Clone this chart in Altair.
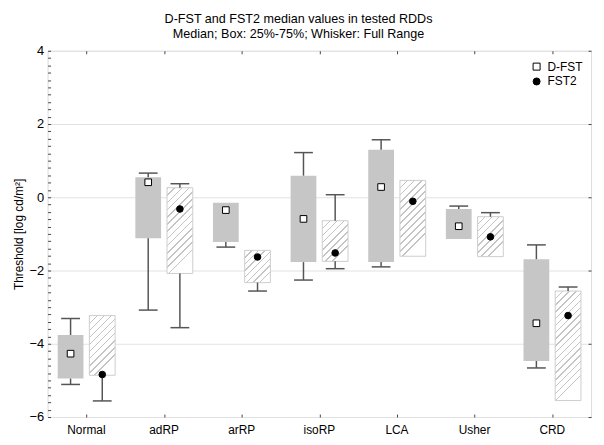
import math
import altair as alt
import pandas as pd

categories = ["Normal", "adRP", "arRP", "isoRP", "LCA", "Usher", "CRD"]
series_names = ["D-FST", "FST2"]

dfst_min = [-5.11, -3.08, -1.36, -2.26, -1.90, -1.14, -4.66]
dfst_q1 = [-4.95, -1.12, -1.22, -1.77, -1.77, -1.14, -4.47]
dfst_med = [-4.27, 0.41, -0.35, -0.59, 0.28, -0.79, -3.44]
dfst_q3 = [-3.76, 0.55, -0.15, 0.59, 1.30, -0.32, -1.69]
dfst_max = [-3.31, 0.66, -0.15, 1.22, 1.57, -0.24, -1.30]

fst2_min = [-5.56, -3.56, -2.56, -1.95, -1.61, -1.62, -5.55]
fst2_q1 = [-4.86, -2.08, -2.33, -1.75, -1.61, -1.62, -5.55]
fst2_med = [-4.84, -0.32, -1.63, -1.52, -0.11, -1.08, -3.23]
fst2_q3 = [-3.23, 0.26, -1.45, -0.64, 0.46, -0.53, -2.56]
fst2_max = [-3.23, 0.37, -1.45, 0.07, 0.46, -0.42, -2.45]

y_ticks = [-6, -4, -2, 0, 2, 4]
y_minor_ticks = [round(-6 + 0.2 * k, 1) for k in range(51)]

W, H = 549, 370
PX_PER_UNIT = H / 10.0
BOX_W = 26

rows = []
for i, c in enumerate(categories):
    rows.append(dict(cat=c, series="D-FST", mn=dfst_min[i], q1=dfst_q1[i],
                     med=dfst_med[i], q3=dfst_q3[i], mx=dfst_max[i]))
    rows.append(dict(cat=c, series="FST2", mn=fst2_min[i], q1=fst2_q1[i],
                     med=fst2_med[i], q3=fst2_q3[i], mx=fst2_max[i]))
df = pd.DataFrame(rows)

FONT = "Liberation Sans"
FRAME = "#444444"

x_scale = alt.Scale(domain=categories, paddingInner=0, paddingOuter=0)
x_enc = alt.X("cat:N", sort=categories, scale=x_scale,
              axis=alt.Axis(title=None, labelAngle=0, ticks=False, tickSize=0,
                            labelFontSize=12, labelPadding=8, labelColor="black",
                            domain=False, grid=False, labelFont=FONT))
xo_enc = alt.XOffset("series:N",
                     scale=alt.Scale(domain=series_names, paddingInner=0.1875,
                                     paddingOuter=0.31875))
y_scale = alt.Scale(domain=[-6, 4], nice=False, zero=False)
y_axis = alt.Axis(values=y_ticks, title="Threshold [log cd/m²]", grid=True,
                  gridColor="#e2e2e2", gridWidth=1, ticks=False, tickSize=0,
                  domain=False, labelFontSize=13, labelPadding=4,
                  labelColor="black", labelFont=FONT, titleFont=FONT,
                  titleFontSize=12, titleFontWeight="normal", titleColor="black",
                  titlePadding=4)

base = alt.Chart(df)


def hatch(h_px, w_px=BOX_W, spacing=5.0, lw=1.1, col="#c4c4c4"):
    m = max(w_px, h_px)
    x2, y2 = w_px / m, h_px / m
    L = (w_px * w_px + h_px * h_px) / (m * math.sqrt(2))
    n = max(1, round(L / spacing))
    f = lw / (L / n)
    stops = []
    for i in range(n):
        a = i / n
        b = (i + f) / n
        c = (i + 1) / n
        stops += [alt.GradientStop(offset=a, color=col),
                  alt.GradientStop(offset=b, color=col),
                  alt.GradientStop(offset=b, color="white"),
                  alt.GradientStop(offset=c, color="white")]
    return alt.LinearGradient(gradient="linear", x1=0, y1=0, x2=x2, y2=y2,
                              stops=stops)


dfst_boxes = base.transform_filter(alt.datum.series == "D-FST").mark_bar(
    color="#c6c6c6").encode(
    x=x_enc, xOffset=xo_enc,
    y=alt.Y("q3:Q", scale=y_scale, axis=y_axis), y2="q1:Q")

fst2_layers = []
for i, c in enumerate(categories):
    h_px = (fst2_q3[i] - fst2_q1[i]) * PX_PER_UNIT
    layer = base.transform_filter(
        (alt.datum.series == "FST2") & (alt.datum.cat == c)
    ).mark_bar(fill=hatch(h_px), stroke="#cdcdcd", strokeWidth=1).encode(
        x=x_enc, xOffset=xo_enc,
        y=alt.Y("q3:Q", scale=y_scale, axis=y_axis), y2="q1:Q")
    fst2_layers.append(layer)

wcol = "#555555"
upper = base.mark_rule(color=wcol, strokeWidth=1.5).encode(
    x=x_enc, xOffset=xo_enc, y=alt.Y("q3:Q", scale=y_scale, axis=y_axis), y2="mx:Q")
lower = base.mark_rule(color=wcol, strokeWidth=1.5).encode(
    x=x_enc, xOffset=xo_enc, y=alt.Y("mn:Q", scale=y_scale, axis=y_axis), y2="q1:Q")
cap_top = base.transform_filter("datum.mx > datum.q3").mark_tick(
    color=wcol, thickness=1.5, size=19, opacity=1).encode(
    x=x_enc, xOffset=xo_enc, y=alt.Y("mx:Q", scale=y_scale, axis=y_axis))
cap_bot = base.transform_filter("datum.mn < datum.q1").mark_tick(
    color=wcol, thickness=1.5, size=19, opacity=1).encode(
    x=x_enc, xOffset=xo_enc, y=alt.Y("mn:Q", scale=y_scale, axis=y_axis))

leg = alt.Legend(title=None, orient="none", legendX=488, legendY=10,
                 labelFontSize=12, labelFont=FONT, labelColor="black",
                 symbolSize=50, symbolStrokeWidth=1,
                 rowPadding=3, labelOffset=5)
medians = base.mark_point(filled=True, size=45, strokeWidth=1,
                          opacity=1).encode(
    x=x_enc, xOffset=xo_enc,
    y=alt.Y("med:Q", scale=y_scale, axis=y_axis),
    shape=alt.Shape("series:N", scale=alt.Scale(domain=series_names,
                                                range=["square", "circle"]),
                    legend=leg),
    fill=alt.Fill("series:N", scale=alt.Scale(domain=series_names,
                                              range=["white", "black"]),
                  legend=leg),
    stroke=alt.Stroke("series:N", scale=alt.Scale(domain=series_names,
                                                  range=["black", "black"]),
                      legend=leg))

main = alt.layer(dfst_boxes, *fst2_layers, upper, lower, cap_top, cap_bot,
                 medians)

# inward tick marks on the frame (axes displaced onto the opposite edge)
tick_style = dict(labels=False, domain=False, grid=False, title=None,
                  tickColor=FRAME, tickWidth=1)
y_left_ticks = base.mark_point(opacity=0).encode(
    y=alt.Y("med:Q", scale=y_scale,
            axis=alt.Axis(orient="right", offset=-W, values=y_minor_ticks,
                          tickSize=3, **tick_style)))
y_right_ticks = base.mark_point(opacity=0).encode(
    y=alt.Y("med:Q", scale=y_scale,
            axis=alt.Axis(orient="left", offset=-W, values=y_ticks,
                          tickSize=3, **tick_style)))
x_top_ticks = base.mark_point(opacity=0).encode(
    x=alt.X("cat:N", sort=categories, scale=x_scale,
            axis=alt.Axis(orient="bottom", offset=-H, tickSize=3, **tick_style)))
x_bottom_ticks = base.mark_point(opacity=0).encode(
    x=alt.X("cat:N", sort=categories, scale=x_scale,
            axis=alt.Axis(orient="top", offset=-H, tickSize=3, **tick_style)))

chart = alt.layer(main, y_left_ticks, y_right_ticks, x_top_ticks,
                  x_bottom_ticks).resolve_scale(
    x="independent", y="independent").properties(
    width=W, height=H,
    title=alt.TitleParams(
        ["D-FST and FST2 median values in tested RDDs",
         "Median; Box: 25%-75%; Whisker: Full Range"],
        fontSize=12.7, fontWeight="normal", font=FONT, anchor="middle",
        offset=4, lineHeight=15, color="black", dx=-21),
    autosize=alt.AutoSizeParams(type="none"),
    padding={"left": 40, "top": 41, "right": 5, "bottom": 22},
).configure_view(stroke=FRAME, strokeWidth=1).configure(background="white")

chart.save("out.html", embed_options={"renderer": "svg", "actions": False})
